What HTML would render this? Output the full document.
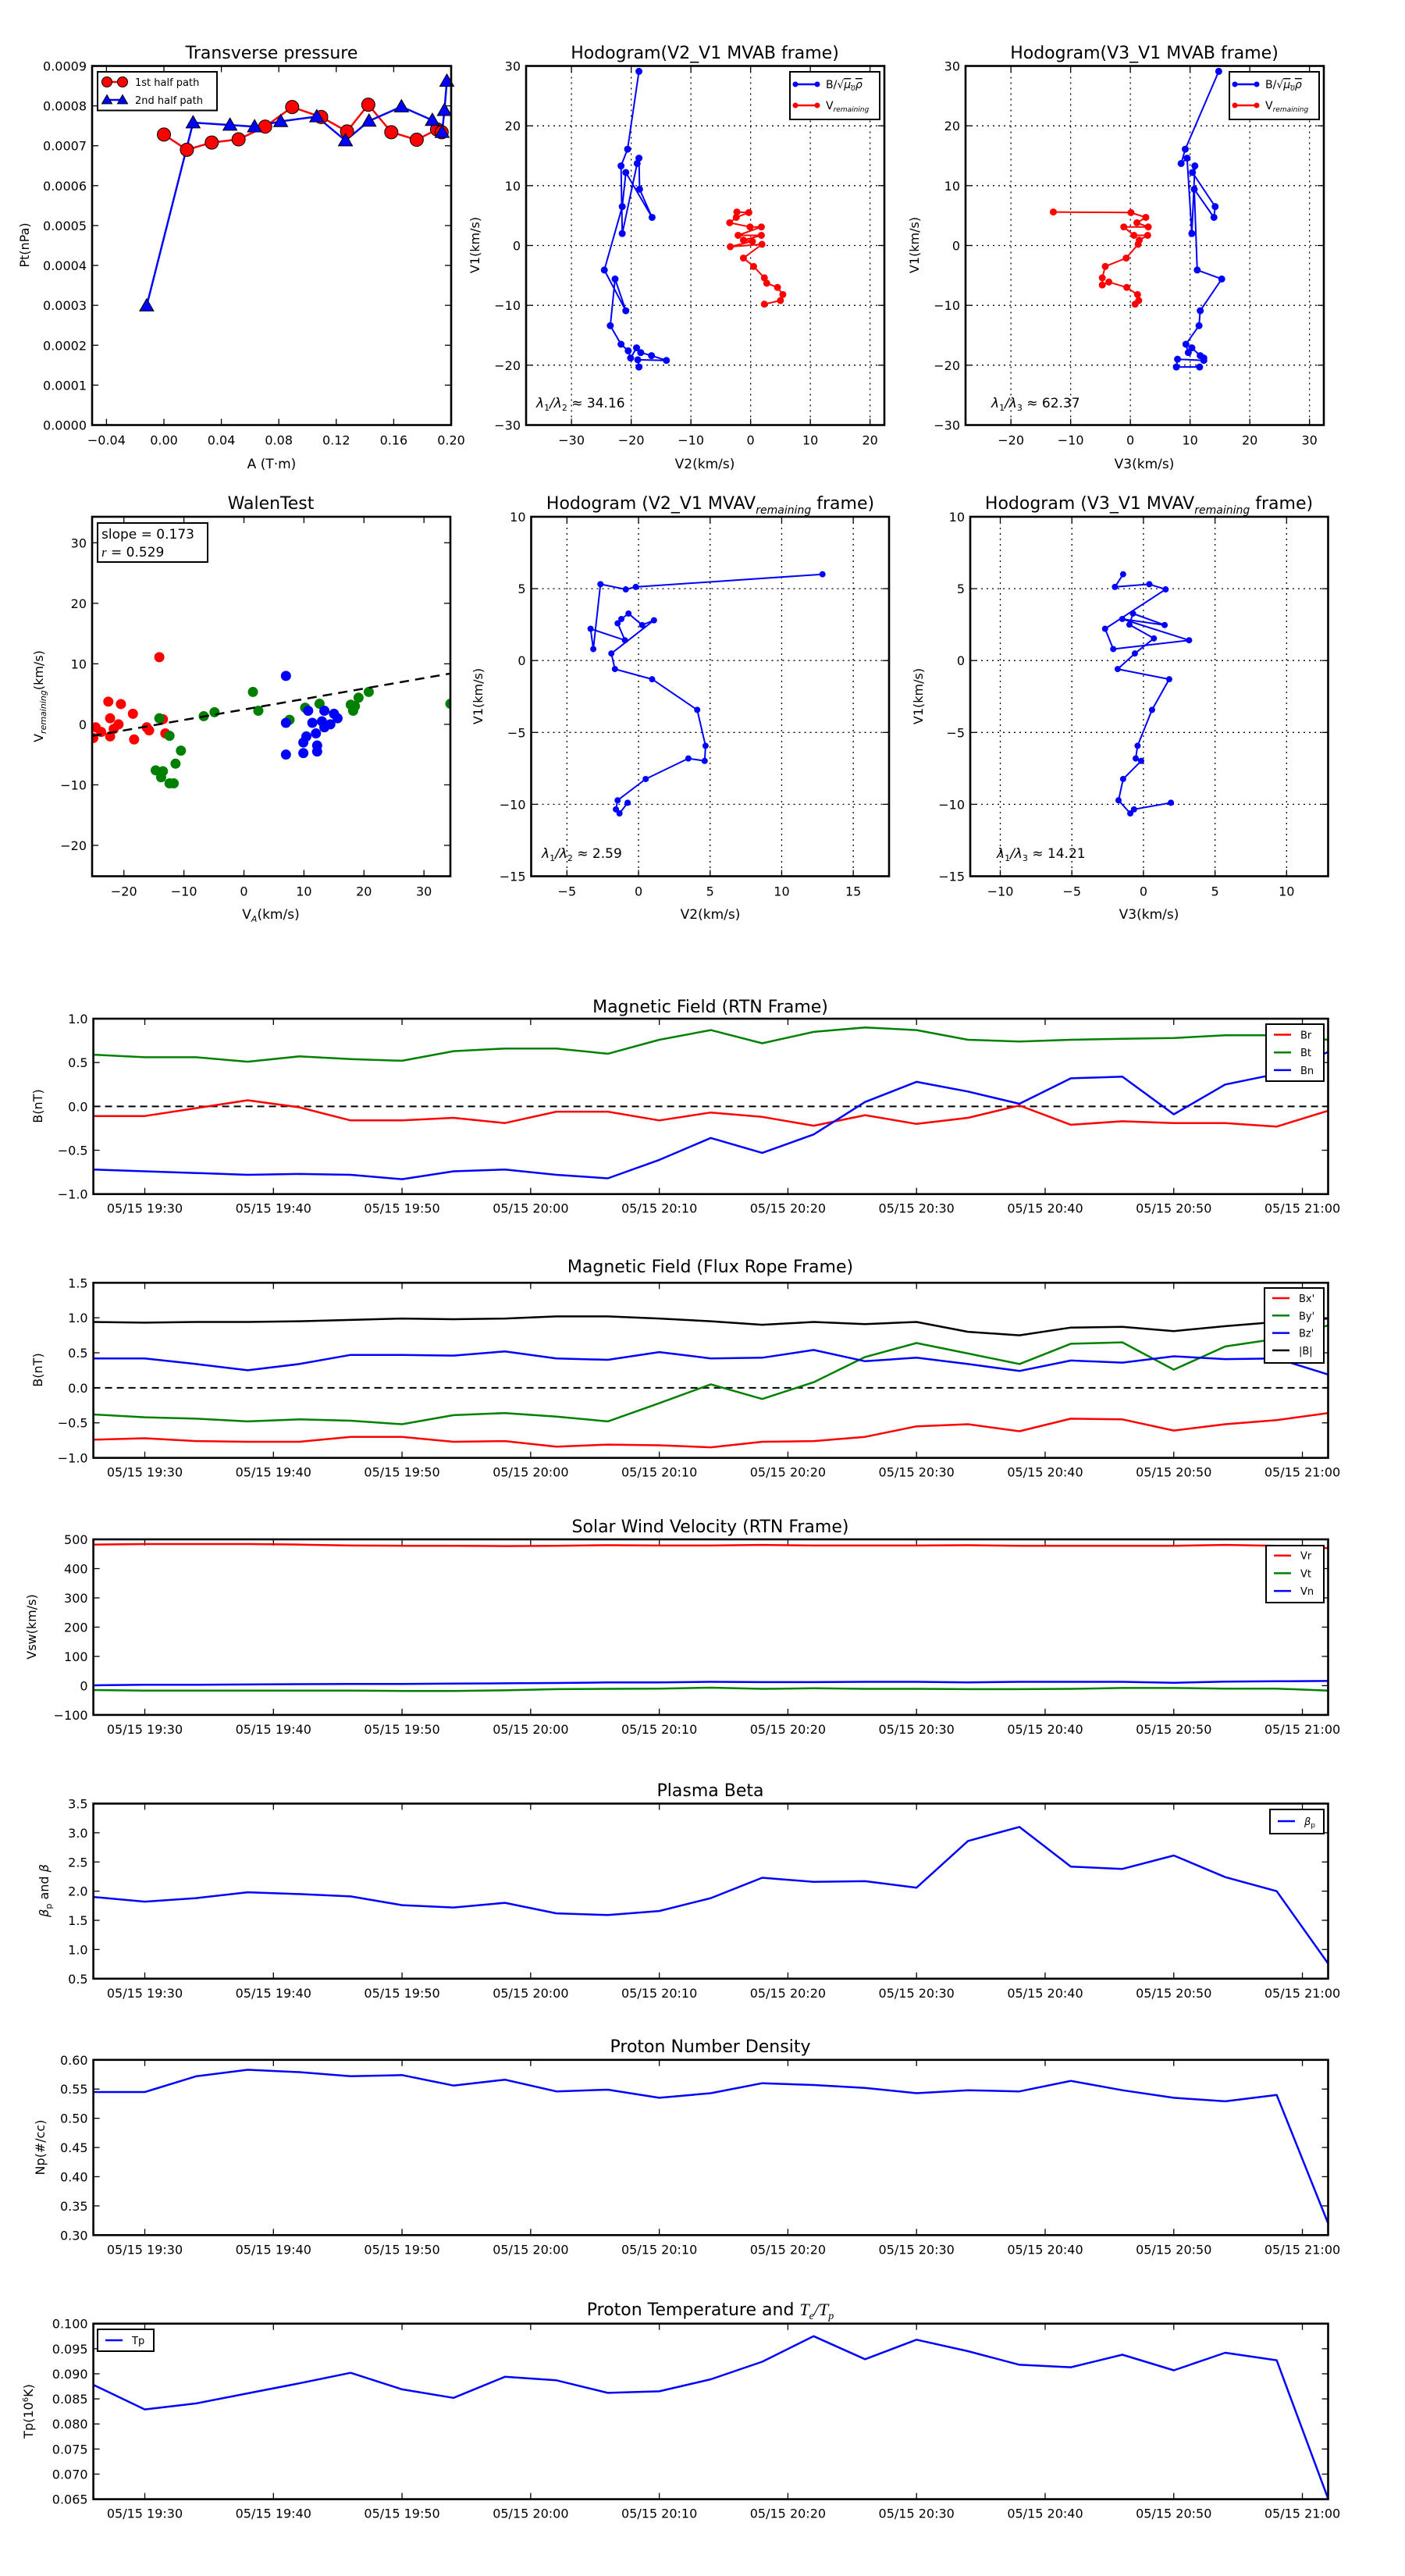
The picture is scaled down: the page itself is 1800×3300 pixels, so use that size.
<!DOCTYPE html>
<html><head><meta charset="utf-8"><style>
html,body{margin:0;padding:0;background:#fff}
svg{display:block}
text{font-family:"DejaVu Sans","Liberation Sans",sans-serif;fill:#000}
</style></head><body>
<svg id="fig" width="1800" height="3300" viewBox="0 0 1800 3300" xmlns="http://www.w3.org/2000/svg">
<rect x="0" y="0" width="1800" height="3300" fill="#fff"/>
<!-- titles -->
<text x="348" y="75" font-size="22" text-anchor="middle">Transverse pressure</text>
<text x="903" y="75" font-size="22" text-anchor="middle">Hodogram(V2_V1 MVAB frame)</text>
<text x="1466" y="75" font-size="22" text-anchor="middle">Hodogram(V3_V1 MVAB frame)</text>
<text x="347" y="652" font-size="22" text-anchor="middle">WalenTest</text>
<text x="910" y="652" font-size="22" text-anchor="middle">Hodogram (V2_V1 MVAV<tspan font-size="14" font-style="italic" dy="6">remaining</tspan><tspan dy="-6"> frame)</tspan></text>
<text x="1472" y="652" font-size="22" text-anchor="middle">Hodogram (V3_V1 MVAV<tspan font-size="14" font-style="italic" dy="6">remaining</tspan><tspan dy="-6"> frame)</tspan></text>
<text x="910" y="1297" font-size="22" text-anchor="middle">Magnetic Field (RTN Frame)</text>
<text x="910" y="1630" font-size="22" text-anchor="middle">Magnetic Field (Flux Rope Frame)</text>
<text x="910" y="1963" font-size="22" text-anchor="middle">Solar Wind Velocity (RTN Frame)</text>
<text x="910" y="2301" font-size="22" text-anchor="middle">Plasma Beta</text>
<text x="910" y="2629" font-size="22" text-anchor="middle">Proton Number Density</text>
<text x="910" y="2966" font-size="22" text-anchor="middle">Proton Temperature and <tspan font-family="Liberation Serif,serif" font-style="italic">T</tspan><tspan font-family="Liberation Serif,serif" font-style="italic" font-size="14" dy="5">e</tspan><tspan dy="-5" font-family="Liberation Serif,serif" font-style="italic">/T</tspan><tspan font-family="Liberation Serif,serif" font-style="italic" font-size="14" dy="5">p</tspan></text>
<!-- axis labels -->
<text x="348" y="600" font-size="17" text-anchor="middle">A (T·m)</text>
<text x="903" y="600" font-size="17" text-anchor="middle">V2(km/s)</text>
<text x="1466" y="600" font-size="17" text-anchor="middle">V3(km/s)</text>
<text x="347" y="1177" font-size="17" text-anchor="middle">V<tspan font-size="11" font-style="italic" dy="4">A</tspan><tspan dy="-4">(km/s)</tspan></text>
<text x="910" y="1177" font-size="17" text-anchor="middle">V2(km/s)</text>
<text x="1472" y="1177" font-size="17" text-anchor="middle">V3(km/s)</text>
<text transform="translate(37,314) rotate(-90)" font-size="16" text-anchor="middle">Pt(nPa)</text>
<text transform="translate(614,314) rotate(-90)" font-size="16" text-anchor="middle">V1(km/s)</text>
<text transform="translate(1177,314) rotate(-90)" font-size="16" text-anchor="middle">V1(km/s)</text>
<text transform="translate(55,892) rotate(-90)" font-size="16" text-anchor="middle">V<tspan font-size="11" font-style="italic" dy="4">remaining</tspan><tspan dy="-4">(km/s)</tspan></text>
<text transform="translate(618,892) rotate(-90)" font-size="16" text-anchor="middle">V1(km/s)</text>
<text transform="translate(1182,892) rotate(-90)" font-size="16" text-anchor="middle">V1(km/s)</text>
<text transform="translate(54,1417) rotate(-90)" font-size="16" text-anchor="middle">B(nT)</text>
<text transform="translate(54,1755) rotate(-90)" font-size="16" text-anchor="middle">B(nT)</text>
<text transform="translate(46,2084) rotate(-90)" font-size="16" text-anchor="middle">Vsw(km/s)</text>
<text transform="translate(62,2422) rotate(-90)" font-size="16" text-anchor="middle"><tspan font-style="italic">β</tspan><tspan font-size="11" dy="4">p</tspan><tspan dy="-4"> and </tspan><tspan font-style="italic">β</tspan></text>
<text transform="translate(57,2751) rotate(-90)" font-size="16" text-anchor="middle">Np(#/cc)</text>
<text transform="translate(42,3089) rotate(-90)" font-size="16" text-anchor="middle">Tp(10<tspan font-size="10" dy="-6">6</tspan><tspan dy="6">K)</tspan></text>
<!-- annotations -->
<text x="687" y="522" font-size="17" font-family="Liberation Serif,serif"><tspan font-style="italic">λ</tspan><tspan font-size="11" dy="4">1</tspan><tspan dy="-4" font-style="italic">/λ</tspan><tspan font-size="11" dy="4">2</tspan><tspan dy="-4"> ≈ 34.16</tspan></text>
<text x="1270" y="522" font-size="17" font-family="Liberation Serif,serif"><tspan font-style="italic">λ</tspan><tspan font-size="11" dy="4">1</tspan><tspan dy="-4" font-style="italic">/λ</tspan><tspan font-size="11" dy="4">3</tspan><tspan dy="-4"> ≈ 62.37</tspan></text>
<text x="694" y="1099" font-size="17" font-family="Liberation Serif,serif"><tspan font-style="italic">λ</tspan><tspan font-size="11" dy="4">1</tspan><tspan dy="-4" font-style="italic">/λ</tspan><tspan font-size="11" dy="4">2</tspan><tspan dy="-4"> ≈ 2.59</tspan></text>
<text x="1277" y="1099" font-size="17" font-family="Liberation Serif,serif"><tspan font-style="italic">λ</tspan><tspan font-size="11" dy="4">1</tspan><tspan dy="-4" font-style="italic">/λ</tspan><tspan font-size="11" dy="4">3</tspan><tspan dy="-4"> ≈ 14.21</tspan></text>
</svg>
<script>
// ---------- data ----------
const tpRedA=[0.0,0.016,0.0333,0.052,0.0705,0.0893,0.1095,0.1275,0.1423,0.1583,0.176,0.1902,0.1934];
const tpRedP=[0.000728,0.000690,0.000708,0.000716,0.000748,0.000797,0.000772,0.000736,0.000803,0.000734,0.000715,0.000741,0.000734];
const tpBlueA=[-0.012,0.0203,0.046,0.0631,0.0813,0.1064,0.1264,0.1428,0.1654,0.1869,0.1937,0.1953,0.197];
const tpBlueP=[0.000299,0.000758,0.000752,0.000748,0.000761,0.000773,0.000713,0.000762,0.000798,0.000764,0.000734,0.000789,0.000862];

const hBV1=[29.1,16.1,13.3,2.0,13.7,14.6,9.4,4.7,12.2,6.5,-4.1,-10.9,-5.6,-13.4,-16.5,-17.6,-18.8,-17.1,-17.9,-18.4,-19.2,-19.1,-20.3];
const hBV2=[-18.7,-20.6,-21.7,-21.5,-19.0,-18.7,-18.6,-16.5,-20.9,-21.5,-24.5,-20.9,-22.7,-23.5,-21.7,-20.5,-20.1,-19.1,-18.4,-16.6,-14.1,-18.9,-18.7];
const hRV1=[5.6,5.5,4.7,3.8,3.1,3.1,1.7,1.7,0.9,0.7,-0.2,0.2,-2.1,-3.5,-5.4,-6.3,-7.0,-8.2,-9.2,-9.8];
const hRV2=[-2.3,-0.3,-2.4,-3.5,-0.1,1.8,-2.1,1.8,-1.2,0.3,-3.4,1.9,-1.2,0.5,2.3,2.7,4.5,5.4,5.0,2.3];

const h3BV1=[29.1,16.1,13.7,14.6,2.0,13.3,12.2,6.5,4.7,9.4,-4.1,-5.6,-10.9,-13.4,-16.5,-17.9,-17.1,-18.4,-18.8,-19.2,-19.0,-20.3,-20.3];
const h3BV3=[14.8,9.2,8.5,9.5,10.3,10.8,10.4,14.2,14.0,10.7,11.2,15.3,11.7,11.5,9.3,9.7,10.3,11.7,12.3,12.3,7.9,7.7,11.6];
const h3RV1=[5.6,5.5,4.7,3.8,3.1,3.1,1.7,1.7,0.9,0.2,-2.1,-3.5,-5.4,-6.6,-6.1,-7.0,-8.2,-9.2,-9.8];
const h3RV3=[-12.9,0.1,2.6,1.1,3.0,-1.1,0.6,2.9,1.5,1.3,-0.7,-4.2,-4.7,-4.7,-3.6,-0.6,1.2,1.4,0.8];

const walRedX=[-14.1,-22.6,-20.5,-18.5,-22.3,-20.9,-24.7,-23.8,-22.3,-18.3,-16.2,-15.8,-13.5,-13.1,-25.1,-21.7];
const walRedY=[11.1,3.75,3.35,1.75,1.0,0.0,-0.5,-1.25,-2.0,-2.5,-0.5,-1.0,0.85,-1.5,-2.25,-0.75];
const walGreenX=[-14.1,-12.4,-10.5,-11.4,-14.7,-13.5,-13.8,-12.4,-11.7,-6.7,-4.9,1.5,2.4,7.6,10.2,12.6,17.8,18.5,19.1,20.8,34.4,18.2];
const walGreenY=[1.0,-1.9,-4.35,-6.5,-7.6,-7.75,-8.75,-9.75,-9.75,1.35,2.0,5.35,2.25,0.75,2.75,3.4,3.25,3.0,4.4,5.35,3.4,2.25];
const walBlueX=[7.0,7.0,7.0,9.9,9.9,10.7,11.4,12.0,12.2,12.2,13.0,13.4,13.4,15.0,15.6,14.4,10.4];
const walBlueY=[8.0,0.25,-5.0,-4.75,-3.0,2.25,0.25,-1.5,-3.5,-4.5,0.5,2.25,-0.5,1.75,1.0,0.0,-2.0];
const walSlope=0.173;
const walIntercept=2.45;

const mvV1=[6.0,5.12,4.95,5.31,0.80,2.21,1.41,2.59,2.89,3.27,2.47,2.80,0.49,-0.59,-1.30,-3.43,-5.93,-6.98,-6.81,-8.24,-9.72,-10.35,-10.63,-9.89];
const mvV2=[12.85,-0.19,-0.89,-2.66,-3.16,-3.35,-0.95,-1.46,-1.2,-0.7,0.25,1.08,-1.9,-1.65,0.95,4.1,4.68,4.62,3.48,0.5,-1.46,-1.58,-1.33,-0.76];
const mv3V1=[6.0,5.12,5.31,4.95,2.21,0.80,1.41,2.89,2.47,3.27,2.50,1.54,0.49,-0.59,-1.30,-3.43,-5.93,-6.81,-6.98,-8.24,-9.72,-10.63,-10.35,-9.89];
const mv3V3=[-1.42,-1.99,0.41,1.55,-2.68,-2.11,3.19,-1.48,1.48,-0.73,-0.98,0.73,-0.6,-1.8,1.8,0.6,-0.41,-0.54,-0.16,-1.42,-1.74,-0.92,-0.66,1.92];

// time series: 25 samples, every 4 min from 19:26
const tMinutes=[0,4,8,12,16,20,24,28,32,36,40,44,48,52,56,60,64,68,72,76,80,84,88,92,96];
const timeTickMin=[4,14,24,34,44,54,64,74,84,94];
const timeTickLabels=["05/15 19:30","05/15 19:40","05/15 19:50","05/15 20:00","05/15 20:10","05/15 20:20","05/15 20:30","05/15 20:40","05/15 20:50","05/15 21:00"];
const Br=[-0.11,-0.11,-0.02,0.07,-0.01,-0.16,-0.16,-0.13,-0.19,-0.06,-0.06,-0.16,-0.07,-0.12,-0.22,-0.10,-0.20,-0.13,0.01,-0.21,-0.17,-0.19,-0.19,-0.23,-0.05];
const Bt=[0.59,0.56,0.56,0.51,0.57,0.54,0.52,0.63,0.66,0.66,0.60,0.76,0.87,0.72,0.85,0.90,0.87,0.76,0.74,0.76,0.77,0.78,0.81,0.81,0.76];
const Bn=[-0.72,-0.74,-0.76,-0.78,-0.77,-0.78,-0.83,-0.74,-0.72,-0.78,-0.82,-0.61,-0.36,-0.53,-0.32,0.05,0.28,0.17,0.03,0.32,0.34,-0.09,0.25,0.37,0.62];
const Bx=[-0.74,-0.72,-0.76,-0.77,-0.77,-0.70,-0.70,-0.77,-0.76,-0.84,-0.81,-0.82,-0.85,-0.77,-0.76,-0.70,-0.55,-0.52,-0.62,-0.44,-0.45,-0.61,-0.52,-0.46,-0.36];
const By=[-0.38,-0.42,-0.44,-0.48,-0.45,-0.47,-0.52,-0.39,-0.36,-0.41,-0.48,-0.22,0.05,-0.16,0.08,0.44,0.64,0.49,0.34,0.63,0.65,0.26,0.59,0.70,0.89];
const Bz=[0.42,0.42,0.34,0.25,0.34,0.47,0.47,0.46,0.52,0.42,0.40,0.51,0.42,0.43,0.54,0.38,0.43,0.34,0.24,0.39,0.36,0.45,0.41,0.42,0.19];
const Bmag=[0.94,0.93,0.94,0.94,0.95,0.97,0.99,0.98,0.99,1.02,1.02,0.99,0.95,0.90,0.94,0.91,0.94,0.80,0.75,0.86,0.87,0.81,0.88,0.94,0.99];
const Vr=[482,484,484,484,482,479,478,478,477,478,480,479,479,481,479,479,479,480,478,478,478,478,481,478,470];
const Vt=[-15,-17,-17,-17,-17,-17,-18,-18,-16,-12,-11,-10,-7,-11,-9,-11,-11,-12,-12,-11,-8,-8,-10,-10,-17];
const Vn=[1,3,3,4,5,6,6,7,8,9,11,11,13,12,12,13,13,11,13,13,13,10,14,15,16];
const betaP=[1.90,1.82,1.88,1.98,1.95,1.91,1.76,1.72,1.80,1.62,1.59,1.66,1.88,2.23,2.16,2.17,2.06,2.86,3.10,2.42,2.38,2.61,2.24,2.00,0.76];
const Np=[0.545,0.545,0.572,0.583,0.579,0.572,0.574,0.556,0.566,0.546,0.549,0.535,0.543,0.560,0.557,0.552,0.543,0.548,0.546,0.564,0.548,0.535,0.529,0.540,0.320];
const Tp=[0.0878,0.0829,0.0841,0.0861,0.0881,0.0902,0.0869,0.0852,0.0894,0.0887,0.0862,0.0865,0.0889,0.0924,0.0975,0.0929,0.0968,0.0945,0.0918,0.0913,0.0938,0.0907,0.0942,0.0927,0.0651];

// ---------- helpers ----------
const NS='http://www.w3.org/2000/svg';
const svg=document.getElementById('fig');
function mk(tag,attrs,name,parent){
  const e=document.createElementNS(NS,tag);
  for(const k in attrs) e.setAttribute(k,attrs[k]);
  
  
  (parent||svg).appendChild(e);
  return e;
}
function txt(x,y,s,attrs,name){
  const e=mk('text',Object.assign({x:x,y:y,'font-size':16},attrs||{}),name);
  e.textContent=s;
  return e;
}
function lin(d0,d1,r0,r1){return v=>r0+(v-d0)/(d1-d0)*(r1-r0);}
function fmt(v,d){const s=Math.abs(v).toFixed(d);return (v<-1e-12?'\u2212':'')+s;}
function axes(o){
  const sx=lin(o.x0,o.x1,o.L,o.R), sy=lin(o.y0,o.y1,o.B,o.T);
  const g=mk('g',{},o.name);
  const tl=8;
  o.xt.forEach((v,i)=>{
    const x=sx(v);
    if(o.grid) mk('line',{x1:x,y1:o.T,x2:x,y2:o.B,stroke:'#000','stroke-width':1.3,'stroke-dasharray':'2,5'},o.name+'-x-grid',g);
    mk('line',{x1:x,y1:o.B,x2:x,y2:o.B-tl,stroke:'#000','stroke-width':1.3},o.name+'-x-tick',g);
    mk('line',{x1:x,y1:o.T,x2:x,y2:o.T+tl,stroke:'#000','stroke-width':1.3},o.name+'-x-tick-top',g);
    const lab=o.xl?o.xl[i]:fmt(v,o.xd||0);
    txt(x,o.B+(o.xoff||25),lab,{'text-anchor':'middle','font-size':o.fs||16},o.name+'-x-tick-label');
  });
  o.yt.forEach(v=>{
    const y=sy(v);
    if(o.grid) mk('line',{x1:o.L,y1:y,x2:o.R,y2:y,stroke:'#000','stroke-width':1.3,'stroke-dasharray':'2,5'},o.name+'-y-grid',g);
    mk('line',{x1:o.L,y1:y,x2:o.L+tl,y2:y,stroke:'#000','stroke-width':1.3},o.name+'-y-tick',g);
    mk('line',{x1:o.R,y1:y,x2:o.R-tl,y2:y,stroke:'#000','stroke-width':1.3},o.name+'-y-tick-right',g);
    txt(o.L-7,y+6,fmt(v,o.yd||0),{'text-anchor':'end','font-size':o.fs||16},o.name+'-y-tick-label');
  });
  return {sx:sx,sy:sy,g:g};
}
function frame(o){mk('rect',{x:o.L,y:o.T,width:o.R-o.L,height:o.B-o.T,fill:'none',stroke:'#000','stroke-width':2.6},o.name+'-frame');}
function clip(o){
  const id='c'+o.name;
  const cp=mk('clipPath',{id:id},o.name+'-clip');
  mk('rect',{x:o.L,y:o.T,width:o.R-o.L,height:o.B-o.T},o.name+'-clip-rect',cp);
  return mk('g',{'clip-path':'url(#'+id+')'},o.name+'-plot-area');
}
function poly(xs,ys,a,color,w,name,parent){
  const pts=xs.map((x,i)=>a.sx(x).toFixed(1)+','+a.sy(ys[i]).toFixed(1)).join(' ');
  return mk('polyline',{points:pts,fill:'none',stroke:color,'stroke-width':w,'stroke-linejoin':'round'},name,parent);
}
function dots(xs,ys,a,color,r,name,parent,stroke){
  xs.forEach((x,i)=>{
    mk('circle',{cx:a.sx(x),cy:a.sy(ys[i]),r:r,fill:color,stroke:stroke||color,'stroke-width':1},name,parent);
  });
}
function tri(x,y,s,color,name,parent){
  mk('polygon',{points:`${x},${y-s} ${x-s},${y+s*0.75} ${x+s},${y+s*0.75}`,fill:color,stroke:'#000','stroke-width':1},name,parent);
}
function range(a,b,s){const r=[];for(let v=a;v<=b+1e-9;v+=s)r.push(+v.toFixed(6));return r;}

// ---------- transverse pressure ----------
(function(){
  const o={name:'transverse-pressure',L:118,T:84.5,R:578,B:544.5,x0:-0.05,x1:0.2,y0:0,y1:0.0009,
    xt:range(-0.04,0.2,0.04),xd:2,yt:range(0,0.0009,0.0001),yd:4};
  const a=axes(o);
  const g=clip(o);
  poly(tpRedA,tpRedP,a,'#f00',2.5,'first-half-line',g);
  poly(tpBlueA,tpBlueP,a,'#00f',2.5,'second-half-line',g);
  tpRedA.forEach((x,i)=>{mk('circle',{cx:a.sx(x),cy:a.sy(tpRedP[i]),r:8.5,fill:'#f00',stroke:'#000','stroke-width':1},'first-half-point',svg);});
  tpBlueA.forEach((x,i)=>{tri(a.sx(x),a.sy(tpBlueP[i]),9,'#00f','second-half-point',svg);});
  frame(o);
  const lg=mk('g',{},'transverse-pressure-legend');
  mk('rect',{x:125,y:92,width:153,height:49.5,fill:'#fff',stroke:'#000','stroke-width':2},'legend-box',lg);
  mk('line',{x1:137,y1:105,x2:157,y2:105,stroke:'#f00','stroke-width':2.5},'legend-line-first',lg);
  mk('circle',{cx:137,cy:105,r:6.5,fill:'#f00',stroke:'#000','stroke-width':1},'legend-marker-first',lg);
  mk('circle',{cx:157,cy:105,r:6.5,fill:'#f00',stroke:'#000','stroke-width':1},'legend-marker-first',lg);
  txt(173,110,'1st half path',{'font-size':13},'legend-entry-first');
  mk('line',{x1:137,y1:128,x2:157,y2:128,stroke:'#00f','stroke-width':2.5},'legend-line-second',lg);
  tri(137,128,6.5,'#00f','legend-marker-second',lg);
  tri(157,128,6.5,'#00f','legend-marker-second',lg);
  txt(173,133,'2nd half path',{'font-size':13},'legend-entry-second');
})();

function hodoLegend(L,name){
  const lg=mk('g',{},name);
  mk('rect',{x:L,y:92,width:115,height:61,fill:'#fff',stroke:'#000','stroke-width':2},name+'-box',lg);
  mk('line',{x1:L+7,y1:108,x2:L+35,y2:108,stroke:'#00f','stroke-width':2.5},name+'-line-b',lg);
  mk('circle',{cx:L+7,cy:108,r:3.5,fill:'#00f'},name+'-marker-b',lg);
  mk('circle',{cx:L+35,cy:108,r:3.5,fill:'#00f'},name+'-marker-b',lg);
  const t1=mk('text',{x:L+46,y:113,'font-size':14,'font-family':'Liberation Serif,serif'},name+'-entry-b',lg);
  t1.innerHTML='B/√<tspan text-decoration="overline" font-style="italic">μ<tspan font-size="9" dy="3">0</tspan><tspan dy="-3">ρ</tspan></tspan>';
  mk('line',{x1:L+7,y1:135,x2:L+35,y2:135,stroke:'#f00','stroke-width':2.5},name+'-line-v',lg);
  mk('circle',{cx:L+7,cy:135,r:3.5,fill:'#f00'},name+'-marker-v',lg);
  mk('circle',{cx:L+35,cy:135,r:3.5,fill:'#f00'},name+'-marker-v',lg);
  const t2=mk('text',{x:L+46,y:140,'font-size':14,'font-family':'Liberation Serif,serif'},name+'-entry-v',lg);
  t2.innerHTML='V<tspan font-size="9" font-style="italic" dy="3">remaining</tspan>';
}

// ---------- hodogram MVAB V2 ----------
(function(){
  const o={name:'hodogram-v2',L:674,T:84.5,R:1133,B:544.5,x0:-37.6,x1:22.4,y0:-30,y1:30,
    xt:range(-30,20,10),yt:range(-30,30,10),grid:true};
  const a=axes(o);
  const g=clip(o);
  poly(hBV2,hBV1,a,'#00f',2,'b-alfven-line',g);
  dots(hBV2,hBV1,a,'#00f',4,'b-alfven-point',g);
  poly(hRV2,hRV1,a,'#f00',2,'v-remaining-line',g);
  dots(hRV2,hRV1,a,'#f00',4,'v-remaining-point',g);
  frame(o);
  hodoLegend(1012,'hodogram-v2-legend');
})();
// ---------- hodogram MVAB V3 ----------
(function(){
  const o={name:'hodogram-v3',L:1237,T:84.5,R:1696,B:544.5,x0:-27.6,x1:32.4,y0:-30,y1:30,
    xt:range(-20,30,10),yt:range(-30,30,10),grid:true};
  const a=axes(o);
  const g=clip(o);
  poly(h3BV3,h3BV1,a,'#00f',2,'b-alfven-line',g);
  dots(h3BV3,h3BV1,a,'#00f',4,'b-alfven-point',g);
  poly(h3RV3,h3RV1,a,'#f00',2,'v-remaining-line',g);
  dots(h3RV3,h3RV1,a,'#f00',4,'v-remaining-point',g);
  frame(o);
  hodoLegend(1575,'hodogram-v3-legend');
})();
// ---------- Walen test ----------
(function(){
  const o={name:'walen-test',L:118,T:662,R:577,B:1122.5,x0:-25.3,x1:34.4,y0:-25.1,y1:34.3,
    xt:range(-20,30,10),yt:range(-20,30,10)};
  const a=axes(o);
  const g=clip(o);
  dots(walRedX,walRedY,a,'#f00',6,'walen-red-point',g);
  dots(walGreenX,walGreenY,a,'#008000',6,'walen-green-point',g);
  dots(walBlueX,walBlueY,a,'#00f',6,'walen-blue-point',g);
  const fx=[o.x0,o.x1], fy=fx.map(x=>walSlope*x+walIntercept);
  const fl=poly(fx,fy,a,'#000',2.5,'walen-fit-line',g);
  fl.setAttribute('stroke-dasharray','12,8');
  frame(o);
  mk('rect',{x:125,y:670,width:141,height:50,fill:'#fff',stroke:'#000','stroke-width':2},'walen-stats-box');
  txt(130,690,'slope = 0.173',{'font-size':17},'walen-slope-text');
  const t=mk('text',{x:130,y:713,'font-size':17},'walen-r-text');
  t.innerHTML='<tspan font-style="italic" font-family="Liberation Serif,serif">r</tspan> = 0.529';
})();
// ---------- MVAV hodograms ----------
(function(){
  const o={name:'hodogram-mvav-v2',L:680.5,T:662,R:1139,B:1122.5,x0:-7.5,x1:17.5,y0:-15,y1:10,
    xt:range(-5,15,5),yt:range(-15,10,5),grid:true};
  const a=axes(o);
  const g=clip(o);
  poly(mvV2,mvV1,a,'#00f',2,'mvav-v2-line',g);
  dots(mvV2,mvV1,a,'#00f',3.5,'mvav-v2-point',g);
  frame(o);
})();
(function(){
  const o={name:'hodogram-mvav-v3',L:1243,T:662,R:1701.5,B:1122.5,x0:-12.1,x1:12.9,y0:-15,y1:10,
    xt:range(-10,10,5),yt:range(-15,10,5),grid:true};
  const a=axes(o);
  const g=clip(o);
  poly(mv3V3,mv3V1,a,'#00f',2,'mvav-v3-line',g);
  dots(mv3V3,mv3V1,a,'#00f',3.5,'mvav-v3-point',g);
  frame(o);
})();

// ---------- time series ----------
function tsPanel(o,series,legend){
  Object.assign(o,{L:119.6,R:1701.5,x0:0,x1:96,xt:timeTickMin,xl:timeTickLabels,xoff:24});
  const a=axes(o);
  const g=clip(o);
  if(o.zero){const z=mk('line',{x1:o.L,y1:a.sy(0),x2:o.R,y2:a.sy(0),stroke:'#000','stroke-width':2,'stroke-dasharray':'9,6'},o.name+'-zero-line',g);}
  series.forEach(s=>{poly(tMinutes,s.v,a,s.c,2.5,o.name+'-'+s.n+'-line',g);});
  frame(o);
  if(legend){
    const lg=mk('g',{},o.name+'-legend');
    mk('rect',{x:legend.x,y:legend.y,width:legend.w,height:legend.h,fill:'#fff',stroke:'#000','stroke-width':2},o.name+'-legend-box',lg);
    series.forEach((s,i)=>{
      const y=legend.y0+i*legend.dy;
      mk('line',{x1:legend.x+10,y1:y,x2:legend.x+32,y2:y,stroke:s.c,'stroke-width':2.5},o.name+'-legend-line',lg);
      const t=mk('text',{x:legend.x+44,y:y+5,'font-size':13},o.name+'-legend-entry',lg);
      t.innerHTML=s.label||s.n;
    });
  }
}
tsPanel({name:'magnetic-field-rtn',T:1305,B:1529.7,y0:-1,y1:1,yt:range(-1,1,0.5),yd:1,zero:true},
  [{n:'Br',v:Br,c:'#f00'},{n:'Bt',v:Bt,c:'#008000'},{n:'Bn',v:Bn,c:'#00f'}],
  {x:1622,y:1312,w:74,h:73,y0:1325.5,dy:22.7});
tsPanel({name:'magnetic-field-flux-rope',T:1643.3,B:1867.6,y0:-1,y1:1.5,yt:range(-1,1.5,0.5),yd:1,zero:true},
  [{n:'Bx\'',v:Bx,c:'#f00'},{n:'By\'',v:By,c:'#008000'},{n:'Bz\'',v:Bz,c:'#00f'},{n:'|B|',v:Bmag,c:'#000'}],
  {x:1620,y:1650,w:76,h:96,y0:1663,dy:22.3});
tsPanel({name:'solar-wind-velocity',T:1972,B:2196.9,y0:-100,y1:500,yt:range(-100,500,100),yd:0},
  [{n:'Vr',v:Vr,c:'#f00'},{n:'Vt',v:Vt,c:'#008000'},{n:'Vn',v:Vn,c:'#00f'}],
  {x:1622,y:1980,w:74,h:73,y0:1992.7,dy:22.7});
tsPanel({name:'plasma-beta',T:2310.5,B:2534.8,y0:0.5,y1:3.5,yt:range(0.5,3.5,0.5),yd:1},
  [{n:'beta-p',v:betaP,c:'#00f',label:'<tspan font-style="italic">β</tspan><tspan font-size="9" dy="3">p</tspan>'}],
  {x:1627,y:2318,w:69,h:31,y0:2333,dy:0});
tsPanel({name:'proton-density',T:2638.8,B:2863.3,y0:0.3,y1:0.6,yt:range(0.3,0.6,0.05),yd:2},
  [{n:'Np',v:Np,c:'#00f'}],null);
tsPanel({name:'proton-temperature',T:2976.7,B:3201.6,y0:0.065,y1:0.1,yt:range(0.065,0.1,0.005),yd:3},
  [{n:'Tp',v:Tp,c:'#00f'}],
  {x:125,y:2984,w:72,h:28,y0:2998,dy:0});
</script>
</body></html>
